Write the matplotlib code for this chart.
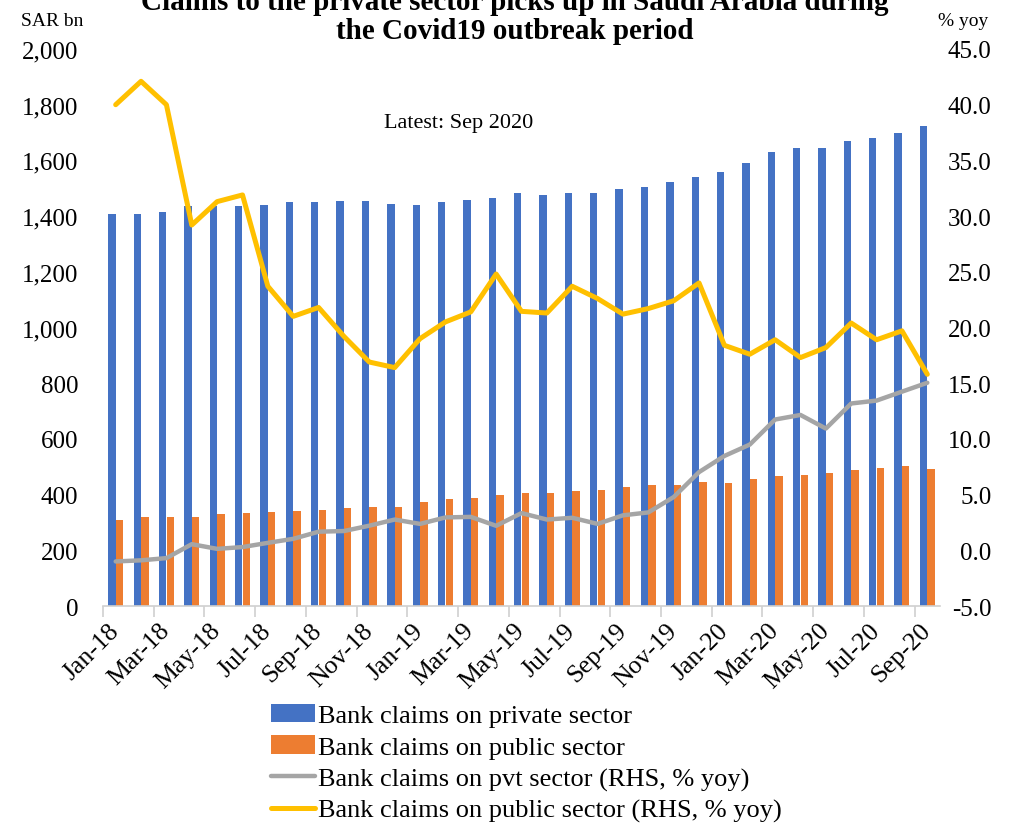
import matplotlib
matplotlib.use("Agg")
import matplotlib.pyplot as plt
import numpy as np

months = ["Jan-18", "Feb-18", "Mar-18", "Apr-18", "May-18", "Jun-18", "Jul-18", "Aug-18",
          "Sep-18", "Oct-18", "Nov-18", "Dec-18", "Jan-19", "Feb-19", "Mar-19", "Apr-19",
          "May-19", "Jun-19", "Jul-19", "Aug-19", "Sep-19", "Oct-19", "Nov-19", "Dec-19",
          "Jan-20", "Feb-20", "Mar-20", "Apr-20", "May-20", "Jun-20", "Jul-20", "Aug-20",
          "Sep-20"]

private_claims = [1408, 1408, 1414, 1436, 1436, 1436, 1440, 1450, 1450, 1454, 1454, 1444,
                  1440, 1450, 1458, 1466, 1484, 1476, 1484, 1484, 1498, 1505, 1523, 1541,
                  1559, 1590, 1630, 1645, 1645, 1671, 1682, 1697, 1722]
public_claims = [310, 318, 321, 318, 330, 333, 336, 340, 346, 351, 355, 355,
                 372, 385, 389, 398, 404, 404, 414, 418, 427, 433, 436, 444,
                 440, 455, 465, 469, 477, 487, 495, 501, 491]
pvt_yoy = [-1.0, -0.9, -0.7, 0.55, 0.13, 0.29, 0.67, 1.03, 1.67, 1.73, 2.21, 2.76,
           2.37, 2.95, 3.0, 2.2, 3.34, 2.76, 2.92, 2.37, 3.14, 3.40, 4.78, 7.02,
           8.47, 9.49, 11.74, 12.15, 10.93, 13.18, 13.44, 14.24, 15.04]
pub_yoy = [40.0, 42.1, 40.0, 29.2, 31.3, 31.9, 23.7, 21.0, 21.8, 19.2, 16.9, 16.4,
           19.0, 20.5, 21.4, 24.8, 21.45, 21.3, 23.7, 22.6, 21.2, 21.7, 22.4, 24.0,
           18.4, 17.6, 18.9, 17.3, 18.2, 20.4, 18.9, 19.7, 15.8]

left_ticks = [0, 200, 400, 600, 800, 1000, 1200, 1400, 1600, 1800, 2000]
right_ticks = [-5.0, 0.0, 5.0, 10.0, 15.0, 20.0, 25.0, 30.0, 35.0, 40.0, 45.0]

plt.rcParams['font.family'] = ['Liberation Serif', 'DejaVu Serif']

W, H = 1013, 828
fig = plt.figure(figsize=(W / 100, H / 100), dpi=100)
fig.patch.set_facecolor('white')

ax_l, ax_r, ax_t, ax_b = 103, 940, 50, 607
ax = fig.add_axes([ax_l / W, 1 - ax_b / H, (ax_r - ax_l) / W, (ax_b - ax_t) / H])
ax2 = ax.twinx()

x = np.arange(len(months))
bw = 0.29
ax.bar(x - 0.15, private_claims, width=bw, color='#4472C4', label='Bank claims on private sector', zorder=2)
ax.bar(x + 0.15, public_claims, width=bw, color='#ED7D31', label='Bank claims on public sector', zorder=2)

ax2.plot(x, pvt_yoy, color='#A5A5A5', lw=3.2, solid_joinstyle='round', solid_capstyle='round',
         label='Bank claims on pvt sector (RHS, % yoy)')
ax2.plot(x, pub_yoy, color='#FFC000', lw=3.6, solid_joinstyle='round', solid_capstyle='round',
         label='Bank claims on public sector (RHS, % yoy)')

ax.set_xlim(-0.5, len(months) - 0.5)
ax.set_ylim(0, 2000)
ax2.set_ylim(-5, 45)

ax.set_yticks(left_ticks)
ax.set_yticklabels([f"{v:,}" for v in left_ticks])
ax2.set_yticks(right_ticks)
ax2.set_yticklabels([f"{v:.1f}" for v in right_ticks])

ax.tick_params(axis='y', length=0, labelsize=18, pad=18)
ax2.tick_params(axis='y', length=0, labelsize=18, pad=37)
for lab in ax2.get_yticklabels():
    lab.set_horizontalalignment('right')

# x ticks: marks at pair boundaries, labels every other month
ax.set_xticks(np.arange(-0.5, len(months) - 1, 2))
ax.set_xticklabels([])
ax.tick_params(axis='x', which='major', length=8, color='#D0D0D0', width=1.2)
ax.set_xticks(x[::2], minor=True)
ax.set_xticklabels(months[::2], minor=True, rotation=45, ha='right', va='center',
                   rotation_mode='anchor', fontsize=18.5)
ax.tick_params(axis='x', which='minor', length=0, pad=15)

for a in (ax, ax2):
    for s in ('left', 'right', 'top'):
        a.spines[s].set_visible(False)
ax.spines['bottom'].set_color('#D0D0D0')
ax.spines['bottom'].set_linewidth(1.2)
ax2.spines['bottom'].set_visible(False)

ax.text((459 - ax_l) / (ax_r - ax_l), (ax_b - 124) / (ax_b - ax_t), 'Latest: Sep 2020',
        transform=ax.transAxes, ha='center', va='center', fontsize=16)

fig.text(515 / W, 1 - 17 / H,
         'Claims to the private sector picks up in Saudi Arabia during\nthe Covid19 outbreak period',
         ha='center', va='center', fontsize=21, fontweight='bold', linespacing=1.05)
fig.text(52 / W, 1 - 22 / H, 'SAR bn', ha='center', va='center', fontsize=14)
fig.text(963 / W, 1 - 22 / H, '% yoy', ha='center', va='center', fontsize=14)

h1, l1 = ax.get_legend_handles_labels()
h2, l2 = ax2.get_legend_handles_labels()
fig.legend(h1 + h2, l1 + l2, loc='upper left', bbox_to_anchor=(271 / W, 1 - 705 / H),
           frameon=False, fontsize=19, borderpad=0, borderaxespad=0,
           handlelength=1.67, handleheight=0.7, handletextpad=0.12, labelspacing=0.3)

fig.savefig('out.png', dpi=100, facecolor='white')
